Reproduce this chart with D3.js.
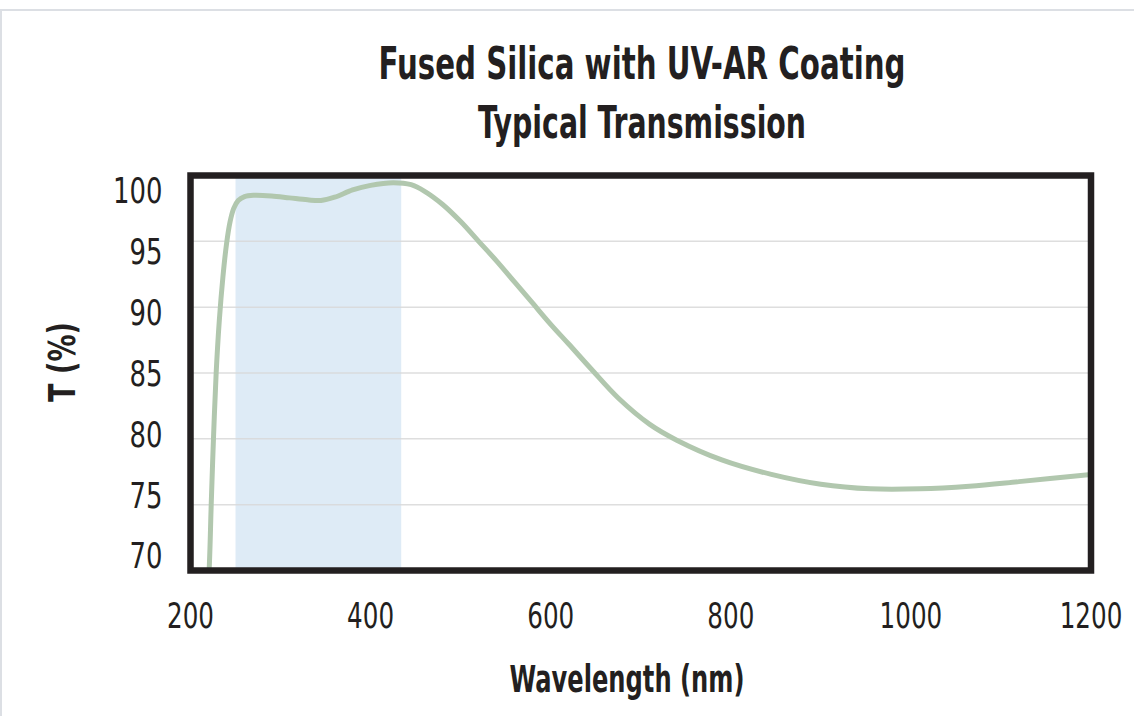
<!DOCTYPE html>
<html>
<head>
<meta charset="utf-8">
<script src="https://cdnjs.cloudflare.com/ajax/libs/d3/7.8.5/d3.min.js"></script>
<style>
    body { margin: 0; background: #fff; }
    .chart { width: 1134px; height: 716px; }
    text { font-family: "Liberation Sans Narrow", "DejaVu Sans Condensed", "Roboto", sans-serif; fill: #231f20; }
</style>
</head>
<body>
<div class="chart"></div>
<script>
//Chart values
const wavelength = [217, 221, 223, 225.5, 228.5, 232, 236, 240, 244, 248, 253, 260, 270, 290, 310, 330, 345, 360, 380, 400, 425, 445, 460, 480, 500, 520, 540, 560, 580, 600, 620, 645, 675, 710, 740, 790, 845, 900, 955, 1010, 1065, 1120, 1200];
const transmission = [65, 70.5, 75, 80, 85, 89, 92.3, 94.8, 96.5, 97.5, 98.1, 98.4, 98.5, 98.45, 98.3, 98.15, 98.1, 98.35, 98.9, 99.25, 99.45, 99.3, 98.8, 97.8, 96.5, 95.0, 93.5, 91.9, 90.3, 88.7, 87.2, 85.3, 83.1, 81.1, 79.9, 78.4, 77.3, 76.55, 76.2, 76.2, 76.4, 76.75, 77.3];
const xTicks = [200, 400, 600, 800, 1000, 1200];
const yTicks = [70, 75, 80, 85, 90, 95, 100];
const uvBand = [250, 434];
const titleLines = ["Fused Silica with UV-AR Coating", "Typical Transmission"];

let chart = {};

init();

function init() {
    chart.data = wavelength.map((w, i) => ({ w: w, t: transmission[i] }));
    appendElements();
    update();
}

function update() {
    setDimensions();
    setScales();
    updateElements();
}

function setDimensions() {
    chart.margin = { top: 175.5, right: 43, bottom: 145.5, left: 190.5 };
    chart.fullWidth = 1134;
    chart.fullHeight = 716;
    chart.width = chart.fullWidth - chart.margin.left - chart.margin.right;
    chart.height = chart.fullHeight - chart.margin.top - chart.margin.bottom;
}

function setScales() {
    chart.x = d3.scaleLinear().domain([200, 1200]).range([0, chart.width]);
    chart.y = d3.scaleLinear().domain([70, 100]).range([chart.height, 0]);
    //tick labels in the original sit a little tighter than the grid
    chart.yLabel = d3.scaleLinear().domain([70, 100]).range([chart.height - 15, 14.5]);

    chart.line = d3.line()
        .x(d => chart.x(d.w))
        .y(d => chart.y(d.t))
        .curve(d3.curveCatmullRom.alpha(0.5));
}

function appendElements() {
    chart.svg = d3.select(".chart").append("svg");

    //faint page border like the screenshot
    chart.pageTop = chart.svg.append("line").attr("stroke", "#dcdfe4").attr("stroke-width", 2);
    chart.pageLeft = chart.svg.append("line").attr("stroke", "#dcdfe4").attr("stroke-width", 2);

    chart.titleText = chart.svg.append("g").attr("class", "title")
        .selectAll("text")
        .data(titleLines).enter()
        .append("text")
        .attr("text-anchor", "middle")
        .style("font-weight", "bold")
        .style("font-size", "45px")
        .text(d => d);

    chart.clip = chart.svg.append("defs").append("clipPath").attr("id", "plotClip")
        .append("rect");

    chart.plot = chart.svg.append("g").attr("class", "chart-g");

    chart.band = chart.plot.append("rect").attr("fill", "#deebf6");
    chart.grid = chart.plot.append("g").attr("class", "grid");
    chart.curve = chart.plot.append("path")
        .attr("clip-path", "url(#plotClip)")
        .attr("fill", "none")
        .attr("stroke", "#b1c7ae")
        .attr("stroke-width", 5)
        .attr("stroke-linecap", "round");
    chart.frame = chart.plot.append("rect")
        .attr("fill", "none")
        .attr("stroke", "#231f20")
        .attr("stroke-width", 6.5);

    chart.yAxis = chart.plot.append("g").attr("class", "y-labels");
    chart.xAxis = chart.plot.append("g").attr("class", "x-labels");

    chart.xTitle = chart.svg.append("text")
        .attr("text-anchor", "middle")
        .style("font-weight", "bold")
        .style("font-size", "37px")
        .text("Wavelength (nm)");
    chart.yTitle = chart.svg.append("text")
        .attr("text-anchor", "middle")
        .style("font-weight", "bold")
        .style("font-size", "37px")
        .text("T (%)");
}

function updateElements() {
    chart.svg.attr("width", chart.fullWidth).attr("height", chart.fullHeight);
    chart.plot.attr("transform", `translate(${chart.margin.left},${chart.margin.top})`);

    chart.pageTop.attr("x1", 0).attr("x2", chart.fullWidth).attr("y1", 10).attr("y2", 10);
    chart.pageLeft.attr("x1", 1).attr("x2", 1).attr("y1", 10).attr("y2", chart.fullHeight);

    chart.titleText
        .attr("x", 642)
        .attr("y", (d, i) => 79 + i * 59)
        .attr("textLength", (d, i) => i === 0 ? 527 : 328)
        .attr("lengthAdjust", "spacingAndGlyphs");

    //clip rect lives in plot coordinates since the path is inside the plot group
    chart.clip.attr("x", 0).attr("y", 0)
        .attr("width", chart.width).attr("height", chart.height);

    chart.band
        .attr("x", chart.x(uvBand[0]))
        .attr("width", chart.x(uvBand[1]) - chart.x(uvBand[0]))
        .attr("y", 0)
        .attr("height", chart.height);

    chart.grid.selectAll("line")
        .data(yTicks.filter(d => d > 70 && d < 100))
        .join("line")
        .attr("x1", 0).attr("x2", chart.width)
        .attr("y1", d => chart.y(d)).attr("y2", d => chart.y(d))
        .attr("stroke", "#d9d9d9")
        .attr("stroke-width", 1.5)
        .attr("opacity", 0.85);

    chart.curve.attr("d", chart.line(chart.data));

    chart.frame
        .attr("x", 0).attr("y", 0)
        .attr("width", chart.width).attr("height", chart.height);

    //digits in the original are narrow, so squeeze them horizontally
    chart.yAxis.selectAll("text")
        .data(yTicks)
        .join("text")
        .attr("transform", d => `translate(-28,${chart.yLabel(d)}) scale(0.8,1)`)
        .attr("dy", "0.36em")
        .attr("text-anchor", "end")
        .style("font-size", "36px")
        .text(d => d);

    chart.xAxis.selectAll("text")
        .data(xTicks)
        .join("text")
        .attr("transform", d => `translate(${chart.x(d)},${chart.height + 57}) scale(0.76,1)`)
        .attr("text-anchor", "middle")
        .style("font-size", "36px")
        .text(d => d);

    chart.xTitle
        .attr("x", 627).attr("y", 692)
        .attr("textLength", 235)
        .attr("lengthAdjust", "spacingAndGlyphs");
    chart.yTitle
        .attr("transform", "translate(75,362) rotate(-90)")
        .attr("textLength", 80)
        .attr("lengthAdjust", "spacingAndGlyphs");
}
</script>
</body>
</html>
